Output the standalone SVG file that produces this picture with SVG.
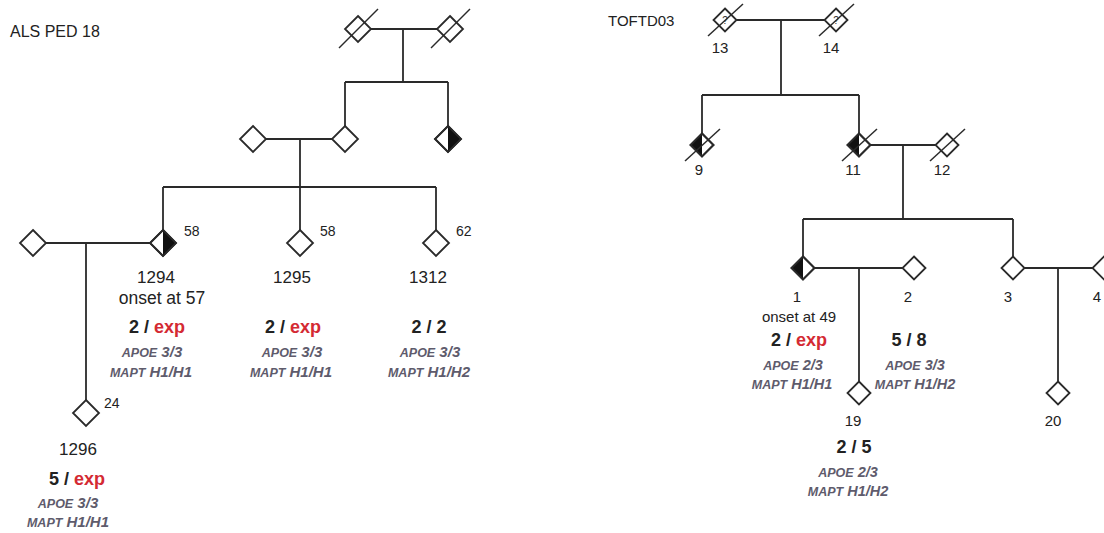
<svg xmlns="http://www.w3.org/2000/svg" xmlns:xlink="http://www.w3.org/1999/xlink" width="1104" height="533" viewBox="0 0 1104 533">
<style>
.ln{stroke:#2a2a2a;stroke-width:1.8;fill:none}
.dm{stroke:#2a2a2a;stroke-width:1.8;fill:#fff}
.fl{fill:#111;stroke:none}
.sl{stroke:#2a2a2a;stroke-width:1.5}
text{font-family:"Liberation Sans",Arial,sans-serif;fill:#222}
.id{font-size:17px;text-anchor:middle}
.ids{font-size:15px;text-anchor:middle}
.age{font-size:14px}
.b{font-size:18px;font-weight:bold;text-anchor:middle}
.exp{fill:#d42a33}
.g{font-style:italic;font-weight:bold;fill:#5e5b6c;text-anchor:middle;font-size:15px}
.sc{font-size:12.5px}
.q{font-size:10px;text-anchor:middle;fill:#333}
</style>
<defs>
<polygon id="dL" points="0,-13 13,0 0,13 -13,0"/>
<polygon id="hL" points="0,-13 13,0 0,13"/>
<polygon id="dS" points="0,-11.5 11.5,0 0,11.5 -11.5,0"/>
<polygon id="hS" points="0,-11.5 -11.5,0 0,11.5"/>
<line id="slL" x1="-19" y1="19" x2="20" y2="-20"/>
<line id="slS" x1="-17" y1="16" x2="18" y2="-16"/>
</defs>

<text x="10" y="37" style="font-size:16px">ALS PED 18</text>
<text x="608" y="26" style="font-size:15px">TOFTD03</text>

<g id="connectors">
<line class="ln" x1="371" y1="29" x2="437" y2="29"/>
<line class="ln" x1="403" y1="29" x2="403" y2="82"/>
<line class="ln" x1="345" y1="82" x2="448" y2="82"/>
<line class="ln" x1="345" y1="82" x2="345" y2="126"/>
<line class="ln" x1="448" y1="82" x2="448" y2="126"/>
<line class="ln" x1="266" y1="139" x2="332" y2="139"/>
<line class="ln" x1="300" y1="139" x2="300" y2="187"/>
<line class="ln" x1="163" y1="187" x2="436" y2="187"/>
<line class="ln" x1="163" y1="187" x2="163" y2="230"/>
<line class="ln" x1="300" y1="187" x2="300" y2="230"/>
<line class="ln" x1="436" y1="187" x2="436" y2="230"/>
<line class="ln" x1="46" y1="243" x2="150" y2="243"/>
<line class="ln" x1="86" y1="243" x2="86" y2="400"/>
<line class="ln" x1="736.5" y1="20" x2="824.5" y2="20"/>
<line class="ln" x1="781" y1="20" x2="781" y2="95"/>
<line class="ln" x1="702" y1="95" x2="859" y2="95"/>
<line class="ln" x1="702" y1="95" x2="702" y2="133.5"/>
<line class="ln" x1="859" y1="95" x2="859" y2="133.5"/>
<line class="ln" x1="870.5" y1="145" x2="935.5" y2="145"/>
<line class="ln" x1="903" y1="145" x2="903" y2="219"/>
<line class="ln" x1="803" y1="219" x2="1013" y2="219"/>
<line class="ln" x1="803" y1="219" x2="803" y2="256.5"/>
<line class="ln" x1="1013" y1="219" x2="1013" y2="256.5"/>
<line class="ln" x1="814.5" y1="268" x2="902.5" y2="268"/>
<line class="ln" x1="859" y1="268" x2="859" y2="381.5"/>
<line class="ln" x1="1024.5" y1="268" x2="1092.5" y2="268"/>
<line class="ln" x1="1058" y1="268" x2="1058" y2="381.5"/>
</g>

<g id="gp-left" transform="translate(358,29)"><use href="#dL" class="dm"/><use href="#slL" class="sl"/></g>
<g id="gp-right" transform="translate(450,29)"><use href="#dL" class="dm"/><use href="#slL" class="sl"/></g>
<g id="p-spouse" transform="translate(253,139)"><use href="#dL" class="dm"/></g>
<g id="p-parent" transform="translate(345,139)"><use href="#dL" class="dm"/></g>
<g id="p-aunt" transform="translate(448,139)"><use href="#dL" class="dm"/><use href="#hL" class="fl"/><use href="#dL" class="ln"/></g>
<g id="p-1294spouse" transform="translate(33,243)"><use href="#dL" class="dm"/></g>

<g id="n1294">
<g transform="translate(163,243)"><use href="#dL" class="dm"/><use href="#hL" class="fl"/><use href="#dL" class="ln"/></g>
<text class="age" x="184" y="236">58</text>
<text class="id" x="156" y="283">1294</text>
<text class="id" x="162" y="304" style="font-size:17.5px">onset at 57</text>
<text class="b" x="157" y="333">2 / <tspan class="exp">exp</tspan></text>
<text class="g" x="152" y="357"><tspan class="sc">APOE</tspan> 3/3</text>
<text class="g" x="151" y="377"><tspan class="sc">MAPT</tspan> H1/H1</text>
</g>

<g id="n1295">
<g transform="translate(300,243)"><use href="#dL" class="dm"/></g>
<text class="age" x="320" y="236">58</text>
<text class="id" x="292" y="283">1295</text>
<text class="b" x="293" y="333">2 / <tspan class="exp">exp</tspan></text>
<text class="g" x="292" y="357"><tspan class="sc">APOE</tspan> 3/3</text>
<text class="g" x="291" y="377"><tspan class="sc">MAPT</tspan> H1/H1</text>
</g>

<g id="n1312">
<g transform="translate(436,243)"><use href="#dL" class="dm"/></g>
<text class="age" x="456" y="236">62</text>
<text class="id" x="428" y="283">1312</text>
<text class="b" x="429" y="333">2 / 2</text>
<text class="g" x="430" y="357"><tspan class="sc">APOE</tspan> 3/3</text>
<text class="g" x="429" y="377"><tspan class="sc">MAPT</tspan> H1/H2</text>
</g>

<g id="n1296">
<g transform="translate(86,413)"><use href="#dL" class="dm"/></g>
<text class="age" x="104" y="408">24</text>
<text class="id" x="78" y="455">1296</text>
<text class="b" x="77" y="485">5 / <tspan class="exp">exp</tspan></text>
<text class="g" x="68" y="508"><tspan class="sc">APOE</tspan> 3/3</text>
<text class="g" x="68" y="527"><tspan class="sc">MAPT</tspan> H1/H1</text>
</g>

<g id="n13">
<g transform="translate(725,20)"><use href="#dS" class="dm"/><text class="q" x="0" y="3.5">?</text><use href="#slS" class="sl"/></g>
<text class="ids" x="720" y="53">13</text>
</g>
<g id="n14">
<g transform="translate(836,20)"><use href="#dS" class="dm"/><text class="q" x="0" y="3.5">?</text><use href="#slS" class="sl"/></g>
<text class="ids" x="831" y="53">14</text>
</g>
<g id="n9">
<g transform="translate(702,145)"><use href="#dS" class="dm"/><use href="#hS" class="fl"/><use href="#dS" class="ln"/><use href="#slS" class="sl"/></g>
<text class="ids" x="699" y="175">9</text>
</g>
<g id="n11">
<g transform="translate(859,145)"><use href="#dS" class="dm"/><use href="#hS" class="fl"/><use href="#dS" class="ln"/><use href="#slS" class="sl"/></g>
<text class="ids" x="853" y="175">11</text>
</g>
<g id="n12">
<g transform="translate(947,145)"><use href="#dS" class="dm"/><use href="#slS" class="sl"/></g>
<text class="ids" x="942" y="175">12</text>
</g>

<g id="n1">
<g transform="translate(803,268)"><use href="#dS" class="dm"/><use href="#hS" class="fl"/><use href="#dS" class="ln"/></g>
<text class="ids" x="797" y="302">1</text>
<text class="ids" x="799" y="322">onset at 49</text>
<text class="b" x="799" y="346">2 / <tspan class="exp">exp</tspan></text>
<text class="g" x="793" y="370" style="font-size:14.5px"><tspan class="sc">APOE</tspan> 2/3</text>
<text class="g" x="792" y="389" style="font-size:14.5px"><tspan class="sc">MAPT</tspan> H1/H1</text>
</g>
<g id="n2">
<g transform="translate(914,268)"><use href="#dS" class="dm"/></g>
<text class="ids" x="908" y="302">2</text>
<text class="b" x="909" y="346">5 / 8</text>
<text class="g" x="915" y="370" style="font-size:14.5px"><tspan class="sc">APOE</tspan> 3/3</text>
<text class="g" x="915" y="389" style="font-size:14.5px"><tspan class="sc">MAPT</tspan> H1/H2</text>
</g>
<g id="n19">
<g transform="translate(859,393)"><use href="#dS" class="dm"/></g>
<text class="ids" x="853" y="426">19</text>
<text class="b" x="854" y="453">2 / 5</text>
<text class="g" x="848" y="477" style="font-size:14.5px"><tspan class="sc">APOE</tspan> 2/3</text>
<text class="g" x="848" y="496" style="font-size:14.5px"><tspan class="sc">MAPT</tspan> H1/H2</text>
</g>
<g id="n3">
<g transform="translate(1013,268)"><use href="#dS" class="dm"/></g>
<text class="ids" x="1008" y="302">3</text>
</g>
<g id="n4">
<g transform="translate(1104,268)"><use href="#dS" class="dm"/></g>
<text class="ids" x="1097" y="302">4</text>
</g>
<g id="n20">
<g transform="translate(1058,393)"><use href="#dS" class="dm"/></g>
<text class="ids" x="1053" y="426">20</text>
</g>
</svg>
